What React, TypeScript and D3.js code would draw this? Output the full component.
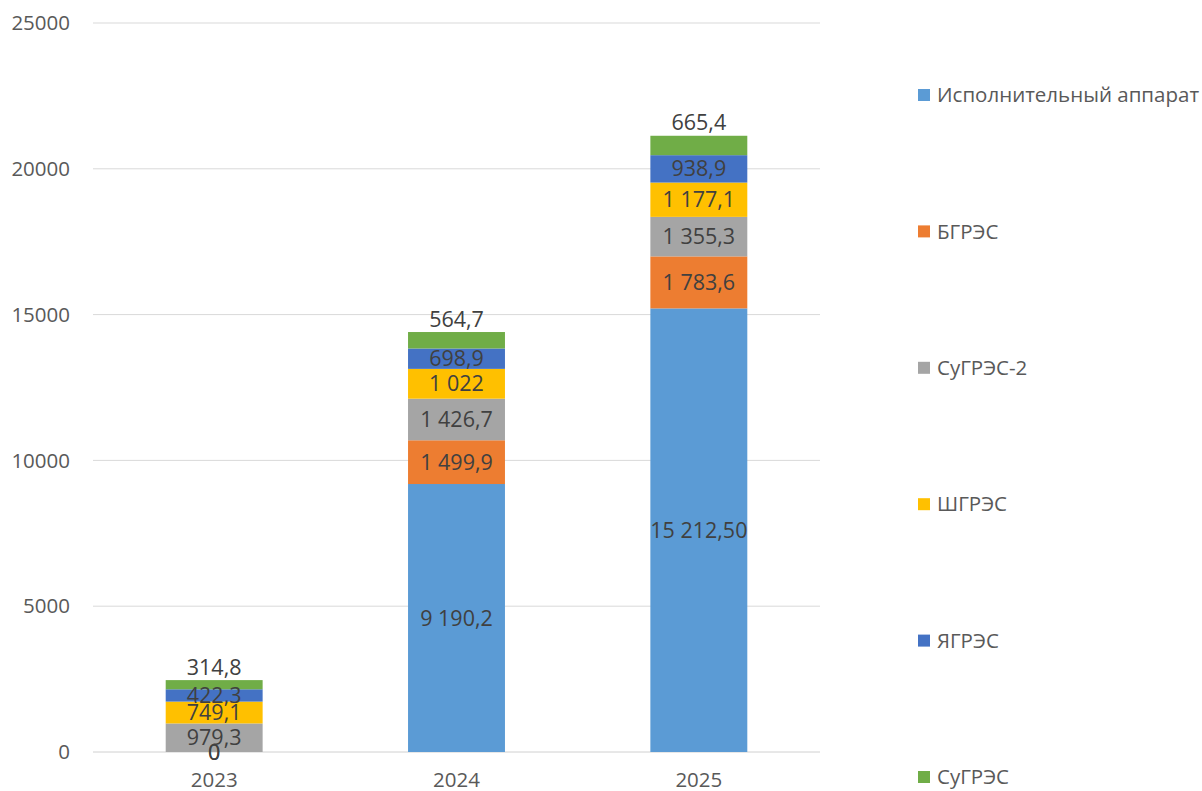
import React from 'react';
import * as d3 from 'd3';

const years = ['2023', '2024', '2025'];
const seriesNames = ['Исполнительный аппарат', 'БГРЭС', 'СуГРЭС-2', 'ШГРЭС', 'ЯГРЭС', 'СуГРЭС'];
const seriesColors = ['#5B9BD5', '#ED7D31', '#A5A5A5', '#FFC000', '#4472C4', '#70AD47'];

// values per series, one per year
const ispApparat = [0, 9190.2, 15212.5];
const bgres = [0, 1499.9, 1783.6];
const sugres2 = [979.3, 1426.7, 1355.3];
const shgres = [749.1, 1022, 1177.1];
const yagres = [422.3, 698.9, 938.9];
const sugres = [314.8, 564.7, 665.4];

const labelIsp = ['0', '9 190,2', '15 212,50'];
const labelBgres = ['0', '1 499,9', '1 783,6'];
const labelSugres2 = ['979,3', '1 426,7', '1 355,3'];
const labelShgres = ['749,1', '1 022', '1 177,1'];
const labelYagres = ['422,3', '698,9', '938,9'];
const labelSugres = ['314,8', '564,7', '665,4'];

const yTicks = [0, 5000, 10000, 15000, 20000, 25000];

const allValues = [ispApparat, bgres, sugres2, shgres, yagres, sugres];
const allLabels = [labelIsp, labelBgres, labelSugres2, labelShgres, labelYagres, labelSugres];

const W = 1202, H = 791;
const left = 93, right = 820, top = 23, bottom = 752;
const font = "'Open Sans', sans-serif";
const textColor = '#404040';

export default function App() {
    const rows = years.map((y, i) => {
        const r: any = { year: y };
        seriesNames.forEach((s, k) => { r[s] = allValues[k][i]; });
        return r;
    });
    const stacked = d3.stack().keys(seriesNames)(rows);

    const x = d3.scaleBand().domain(years).range([left, right]).paddingInner(0.6).paddingOuter(0.3);
    const y = d3.scaleLinear().domain([0, 25000]).range([bottom, top]);

    const legendY = d3.scalePoint().domain(seriesNames).range([95, 777]);

    return (
        <svg width={W} height={H} style={{ position: 'absolute', left: 0, top: 0, background: '#fff' }}>
            {/* grid */}
            {yTicks.map(t => (
                <g key={t}>
                    <line x1={left} x2={right} y1={y(t)} y2={y(t)} stroke={t === 0 ? '#D0D0D0' : '#D9D9D9'} strokeWidth={1} />
                    <text x={70} y={y(t)} dy="0.35em" textAnchor="end" fontFamily={font} fontSize={20.5} fill="#595959">{t}</text>
                </g>
            ))}
            {/* bars */}
            {stacked.map((layer, k) => (
                <g key={layer.key}>
                    {layer.map((d, i) => (
                        <rect key={i} x={x(years[i])} width={x.bandwidth()} y={y(d[1])} height={y(d[0]) - y(d[1])} fill={seriesColors[k]} />
                    ))}
                </g>
            ))}
            {/* labels */}
            {stacked.map((layer, k) => (
                <g key={'l' + layer.key}>
                    {layer.map((d, i) => {
                        const cx = (x(years[i]) as number) + x.bandwidth() / 2;
                        const last = k === stacked.length - 1;
                        const cy = last ? y(d[1]) - 13 : (y(d[0]) + y(d[1])) / 2;
                        return (
                            <text key={i} x={cx} y={cy} dy="0.35em" textAnchor="middle" fontFamily={font} fontSize={21.5} fill={textColor}>
                                {allLabels[k][i]}
                            </text>
                        );
                    })}
                </g>
            ))}
            {/* x axis labels */}
            {years.map(yr => (
                <text key={yr} x={(x(yr) as number) + x.bandwidth() / 2} y={780} dy="0.35em" textAnchor="middle" fontFamily={font} fontSize={20.5} fill="#595959">{yr}</text>
            ))}
            {/* legend */}
            {seriesNames.map((s, k) => (
                <g key={s} transform={`translate(918, ${legendY(s)})`}>
                    <rect x={0} y={-6} width={12} height={12} fill={seriesColors[k]} />
                    <text x={19} y={0} dy="0.35em" fontFamily={font} fontSize={20.5} fill="#595959">{s}</text>
                </g>
            ))}
        </svg>
    );
}
